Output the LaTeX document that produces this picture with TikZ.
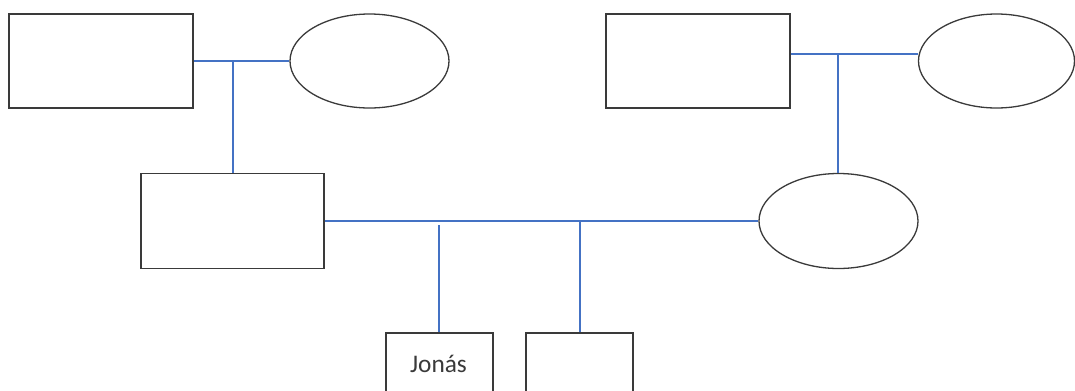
\documentclass[tikz,border=0pt]{standalone}
\usepackage{fontspec}
\setmainfont{Carlito}
\usetikzlibrary{shapes.geometric}
\definecolor{linkblue}{HTML}{4472C4}
\definecolor{edgegray}{HTML}{3A3A3A}
\def\PX{0.75pt}
\tikzset{
  person/.style={draw=edgegray, line width=1.3*\PX, fill=white, inner sep=0pt},
  manbox/.style={person, rectangle},
  womanoval/.style={person, ellipse},
  link/.style={draw=linkblue, line width=1.5*\PX},
}
\begin{document}
\begin{tikzpicture}[x=0.75pt, y=-0.75pt]
\useasboundingbox (0,0) rectangle (1075,390);
\begin{scope}
\clip (0,0) rectangle (1075,390);
% first generation
\node[manbox, minimum width=184*\PX, minimum height=94*\PX] (b1) at (101,61) {};
\node[womanoval, minimum width=159*\PX, minimum height=94*\PX] (e1) at (369.5,61) {};
\node[manbox, minimum width=184*\PX, minimum height=94*\PX] (b3) at (698,61) {};
\node[womanoval, minimum width=156*\PX, minimum height=94*\PX] (e2) at (996.5,61) {};
% second generation
\node[manbox, minimum width=183*\PX, minimum height=95*\PX] (b2) at (232.5,221) {};
\node[womanoval, minimum width=159*\PX, minimum height=95*\PX] (e3) at (838.5,221) {};
% children
\node[manbox, minimum width=107*\PX, minimum height=94*\PX] (c1) at (439.5,380) {};
\node[manbox, minimum width=107*\PX, minimum height=94*\PX] (c2) at (579.5,380) {};
% connectors
\coordinate (m1) at (233,61);
\coordinate (m2) at (838,54);
\coordinate (j1) at (439,225);
\coordinate (j2) at (580,221);
\draw[link] (b1.east) -- (e1.west);
\draw[link] (m1) -- (m1 |- b2.north);
\draw[link] (b3.east |- m2) -- (e2.west |- m2);
\draw[link] (m2) -- (m2 |- e3.north);
\draw[link] (b2.east) -- (e3.west);
\draw[link] (j1) -- (j1 |- c1.north);
\draw[link] (j2) -- (j2 |- c2.north);
% label
\node[text=edgegray, font=\fontsize{19}{23}\selectfont, anchor=base, inner sep=0pt] (jonas) at (438.5,372) {Jonás};
\end{scope}
\end{tikzpicture}
\end{document}
